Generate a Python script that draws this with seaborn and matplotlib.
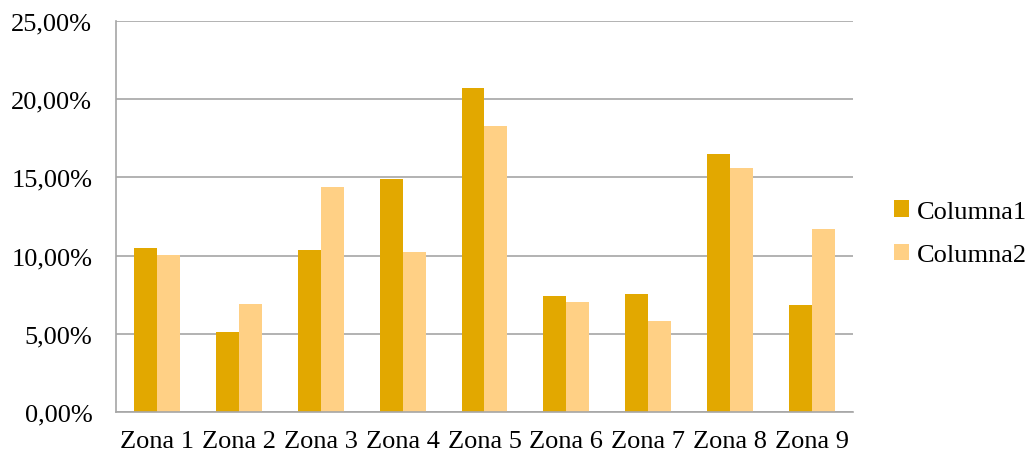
import matplotlib
matplotlib.use("Agg")
import matplotlib.pyplot as plt
import seaborn as sns
import pandas as pd
from matplotlib.ticker import FuncFormatter, MultipleLocator
from matplotlib.patches import Patch

zonas = ["Zona 1", "Zona 2", "Zona 3", "Zona 4", "Zona 5", "Zona 6", "Zona 7", "Zona 8", "Zona 9"]
columna1 = [10.50, 5.10, 10.36, 14.92, 20.72, 7.42, 7.56, 16.50, 6.84]
columna2 = [10.04, 6.90, 14.36, 10.22, 18.28, 7.04, 5.82, 15.58, 11.70]
series = ["Columna1", "Columna2"]
colors = ["#E2A800", "#FFD085"]

df = pd.DataFrame({"Zona": zonas * 2,
                   "Serie": [series[0]] * len(zonas) + [series[1]] * len(zonas),
                   "Valor": columna1 + columna2})

sns.set_theme(style="white")
plt.rcParams["font.family"] = ["Liberation Serif", "DejaVu Serif"]
plt.rcParams["text.color"] = "black"

fig = plt.figure(figsize=(10.3, 4.56), dpi=100)
ax = fig.add_axes([0.1126, 0.094, 0.7155, 0.858])

sns.barplot(data=df, x="Zona", y="Valor", hue="Serie", palette=colors,
            width=0.56, saturation=1, ax=ax, legend=False, linewidth=0)

ax.set_xlim(-0.5, len(zonas) - 0.5)
ax.set_ylim(0, 25)
ax.yaxis.set_major_locator(MultipleLocator(5))
ax.yaxis.set_major_formatter(FuncFormatter(lambda v, p: f"{v:.2f}".replace(".", ",") + "%"))
ax.set_xlabel("")
ax.set_ylabel("")

ax.grid(axis="y", color="#A6A6A6", linewidth=1.2)
ax.set_axisbelow(True)
for s in ["top", "right"]:
    ax.spines[s].set_visible(False)
for s in ["left", "bottom"]:
    ax.spines[s].set_color("#A6A6A6")
    ax.spines[s].set_linewidth(1.2)

ax.set_xticks([i - 0.5 for i in range(len(zonas) + 1)], minor=True)
ax.set_xticks(range(len(zonas)))
ax.set_xticklabels(zonas)
ax.tick_params(axis="x", which="major", length=0, pad=13, labelsize=19, labelcolor="black")
ax.tick_params(axis="x", which="minor", length=8, width=1.2, color="#A6A6A6", direction="out")
ax.tick_params(axis="y", length=8, width=1.2, color="#A6A6A6", labelsize=19, pad=9,
               direction="out", labelcolor="black")

handles = [Patch(facecolor=c, edgecolor="none") for c in colors]
fig.legend(handles, series, loc="center left", bbox_to_anchor=(0.868, 0.486),
           frameon=False, fontsize=19, handlelength=0.56, handleheight=0.56,
           handletextpad=0.3, labelspacing=0.8, borderpad=0, borderaxespad=0)

fig.savefig("out.png", dpi=100)
